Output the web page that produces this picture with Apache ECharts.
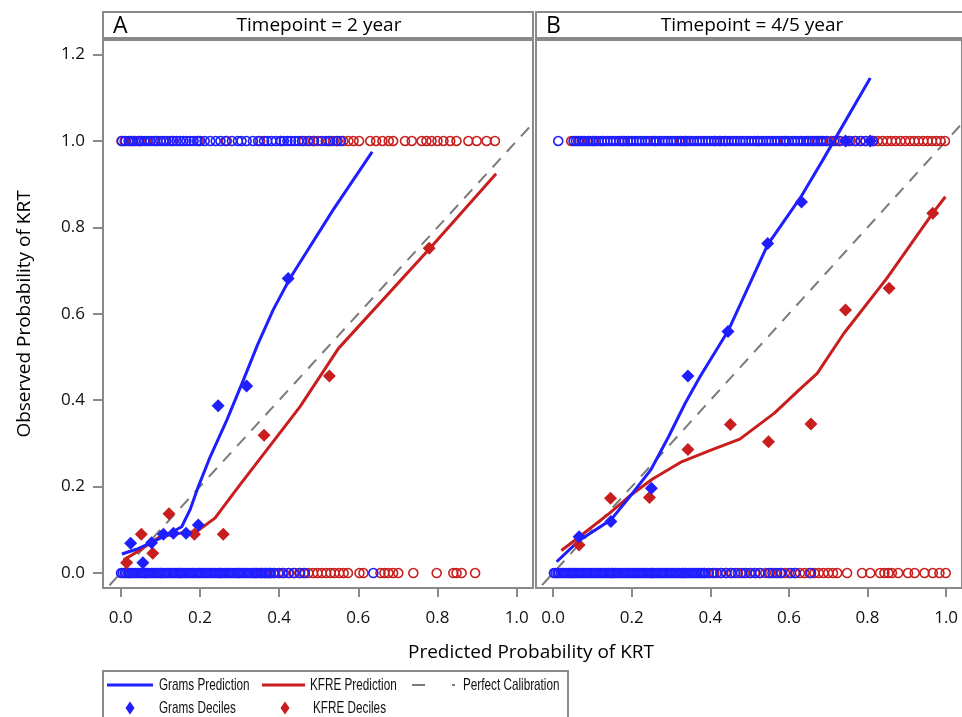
<!DOCTYPE html>
<html>
<head>
<meta charset="utf-8">
<script src="https://cdn.jsdelivr.net/npm/echarts@6.0.0/dist/echarts.min.js"></script>
<style>
html, body { margin: 0; padding: 0; background: #fff; }
#chart { width: 962px; height: 717px; }
</style>
</head>
<body>
<div id="chart"></div>
<script>
// tick values
var xTicks = [0, 0.2, 0.4, 0.6, 0.8, 1.0];
var yTicks = [0, 0.2, 0.4, 0.6, 0.8, 1.0, 1.2];

// ---- Panel A : Timepoint = 2 year ----
var gramsLineA = [[0.003,0.044],[0.040,0.055],[0.074,0.069],[0.117,0.088],[0.154,0.107],[0.175,0.146],[0.196,0.200],[0.226,0.269],[0.268,0.354],[0.310,0.447],[0.345,0.527],[0.385,0.609],[0.428,0.683],[0.536,0.840],[0.635,0.975]];
var kfreLineA = [[0.007,0.030],[0.049,0.053],[0.099,0.084],[0.150,0.092],[0.192,0.096],[0.238,0.127],[0.301,0.204],[0.369,0.285],[0.453,0.385],[0.550,0.520],[0.781,0.752],[0.948,0.924]];
var gramsDecA = [[0.025,0.069],[0.056,0.024],[0.078,0.070],[0.108,0.090],[0.133,0.092],[0.165,0.092],[0.196,0.111],[0.246,0.387],[0.318,0.433],[0.423,0.682]];
var kfreDecA = [[0.015,0.024],[0.052,0.090],[0.081,0.046],[0.122,0.137],[0.186,0.090],[0.259,0.090],[0.362,0.319],[0.527,0.456],[0.779,0.752]];

// observed events (y = 1) and non-events (y = 0), predicted probability
var gramsA1 = [0.003,0.012,0.020,0.028,0.036,0.045,0.052,0.060,0.068,0.075,0.083,0.092,0.100,0.108,0.115,0.124,0.133,0.141,0.150,0.158,0.166,0.175,0.184,0.193,0.201,0.212,0.226,0.240,0.252,0.265,0.281,0.296,0.305,0.318,0.334,0.347,0.362,0.370,0.381,0.392,0.403,0.412,0.421,0.430,0.440,0.449,0.458,0.473,0.488,0.507,0.518,0.529,0.545,0.556];
var kfreA1 = [0.002,0.010,0.024,0.031,0.043,0.050,0.087,0.131,0.197,0.268,0.352,0.405,0.463,0.478,0.487,0.498,0.524,0.536,0.548,0.562,0.575,0.588,0.602,0.630,0.645,0.661,0.677,0.688,0.718,0.735,0.760,0.772,0.785,0.800,0.815,0.832,0.848,0.878,0.899,0.924,0.945];
var gramsA0 = [0.001,0.005,0.010,0.014,0.019,0.023,0.028,0.032,0.037,0.041,0.046,0.050,0.055,0.059,0.064,0.068,0.073,0.077,0.082,0.086,0.091,0.095,0.100,0.104,0.109,0.113,0.118,0.122,0.127,0.131,0.136,0.140,0.145,0.149,0.154,0.158,0.163,0.167,0.172,0.176,0.181,0.185,0.190,0.194,0.199,0.203,0.208,0.212,0.217,0.221,0.226,0.230,0.235,0.239,0.244,0.248,0.253,0.257,0.262,0.266,0.271,0.275,0.280,0.284,0.289,0.293,0.298,0.302,0.307,0.311,0.316,0.320,0.325,0.329,0.334,0.338,0.343,0.347,0.352,0.356,0.361,0.365,0.370,0.374,0.378,0.386,0.398,0.409,0.424,0.437,0.453,0.465,0.638];
var kfreA0 = [0.020,0.060,0.100,0.150,0.200,0.250,0.300,0.340,0.355,0.366,0.377,0.389,0.401,0.412,0.425,0.439,0.451,0.462,0.474,0.486,0.497,0.508,0.519,0.530,0.540,0.552,0.563,0.574,0.603,0.613,0.656,0.666,0.676,0.688,0.701,0.739,0.798,0.840,0.848,0.861,0.895];

// ---- Panel B : Timepoint = 4/5 year ----
var gramsLineB = [[0.009,0.026],[0.067,0.076],[0.147,0.123],[0.198,0.180],[0.248,0.238],[0.294,0.316],[0.336,0.393],[0.374,0.455],[0.445,0.560],[0.546,0.760],[0.630,0.870],[0.685,0.954],[0.807,1.146]];
var kfreLineB = [[0.021,0.052],[0.067,0.084],[0.143,0.138],[0.193,0.177],[0.252,0.217],[0.328,0.258],[0.403,0.285],[0.475,0.310],[0.563,0.370],[0.626,0.424],[0.672,0.462],[0.740,0.555],[0.849,0.682],[0.966,0.833],[0.998,0.871]];
var gramsDecB = [[0.066,0.084],[0.147,0.119],[0.250,0.196],[0.343,0.456],[0.445,0.559],[0.546,0.763],[0.632,0.859],[0.744,1.000],[0.807,1.000]];
var kfreDecB = [[0.066,0.065],[0.146,0.173],[0.245,0.175],[0.343,0.286],[0.451,0.344],[0.548,0.304],[0.656,0.345],[0.744,0.609],[0.855,0.659],[0.966,0.833]];

var gramsB1 = [0.013,0.052,0.058,0.066,0.073,0.080,0.088,0.095,0.101,0.109,0.116,0.124,0.131,0.138,0.146,0.153,0.160,0.168,0.175,0.182,0.190,0.197,0.204,0.212,0.219,0.226,0.234,0.241,0.248,0.256,0.263,0.270,0.278,0.285,0.292,0.300,0.307,0.314,0.322,0.329,0.336,0.344,0.351,0.358,0.366,0.373,0.380,0.388,0.395,0.402,0.410,0.417,0.424,0.432,0.439,0.446,0.454,0.461,0.468,0.476,0.483,0.490,0.498,0.505,0.512,0.520,0.527,0.534,0.542,0.549,0.556,0.564,0.571,0.578,0.586,0.593,0.600,0.608,0.615,0.622,0.630,0.637,0.644,0.652,0.659,0.666,0.674,0.681,0.688,0.696,0.715,0.728,0.752,0.768,0.783,0.795,0.813];
var kfreB1 = [0.046,0.063,0.076,0.090,0.104,0.124,0.178,0.190,0.260,0.325,0.338,0.410,0.425,0.438,0.520,0.590,0.648,0.660,0.672,0.684,0.696,0.708,0.720,0.730,0.745,0.757,0.770,0.782,0.795,0.815,0.826,0.838,0.850,0.861,0.872,0.884,0.896,0.908,0.919,0.930,0.942,0.953,0.964,0.975,0.986,0.997];
var gramsB0 = [0.002,0.006,0.011,0.015,0.020,0.024,0.029,0.033,0.038,0.042,0.047,0.051,0.056,0.060,0.065,0.069,0.074,0.078,0.083,0.087,0.092,0.096,0.101,0.105,0.110,0.114,0.119,0.123,0.128,0.132,0.137,0.141,0.146,0.150,0.155,0.159,0.164,0.168,0.173,0.177,0.182,0.186,0.191,0.195,0.200,0.204,0.209,0.213,0.218,0.222,0.227,0.231,0.236,0.240,0.245,0.249,0.254,0.258,0.263,0.267,0.272,0.276,0.281,0.285,0.290,0.294,0.299,0.303,0.308,0.312,0.317,0.321,0.326,0.330,0.335,0.339,0.344,0.348,0.353,0.357,0.362,0.366,0.371,0.375,0.380,0.384,0.387,0.396,0.405,0.416,0.428,0.440,0.452,0.463,0.478,0.490,0.503,0.515,0.527,0.548,0.558,0.570,0.580,0.605,0.617,0.656];
var kfreB0 = [0.050,0.150,0.250,0.330,0.395,0.410,0.425,0.440,0.455,0.470,0.485,0.500,0.513,0.525,0.540,0.552,0.565,0.578,0.590,0.600,0.615,0.628,0.640,0.652,0.665,0.676,0.688,0.700,0.712,0.723,0.748,0.786,0.807,0.832,0.843,0.853,0.862,0.878,0.903,0.920,0.945,0.966,0.983,0.999];

var diag = [[-0.1,-0.1],[1.1,1.1]];

var BLUE = '#1e1eff';
var RED = '#c81e1e';
var GREY = '#7a7a7a';
var FRAME = '#8a8a8a';
var FONT = '"Open Sans", "DejaVu Sans", sans-serif';
var NARROW = '"Liberation Sans Narrow", "Liberation Sans", Arial, sans-serif';

function rug(xs, y) {
	return xs.map(function(x) { return [x, y]; });
}

function rugSeries(name, idx, xs1, xs0, color) {
	return {
		name: name, type: 'scatter', xAxisIndex: idx, yAxisIndex: idx,
		data: rug(xs1, 1).concat(rug(xs0, 0)),
		symbol: 'circle', symbolSize: 9, z: 2,
		itemStyle: { color: 'rgba(0,0,0,0)', borderColor: color, borderWidth: 1.6, opacity: 1 },
		emphasis: { disabled: true }
	};
}

function panelSeries(idx, d) {
	return [
		{ name: 'Perfect Calibration', type: 'line', xAxisIndex: idx, yAxisIndex: idx, data: diag,
			symbol: 'none', z: 1, lineStyle: { color: GREY, width: 2, type: [12, 9] }, itemStyle: { color: GREY } },
		rugSeries('KFRE Observed', idx, d.kfre1, d.kfre0, RED),
		rugSeries('Grams Observed', idx, d.grams1, d.grams0, BLUE),
		{ name: 'KFRE Prediction', type: 'line', xAxisIndex: idx, yAxisIndex: idx, data: d.kfreLine,
			symbol: 'none', z: 3, lineStyle: { color: RED, width: 3 }, itemStyle: { color: RED } },
		{ name: 'Grams Prediction', type: 'line', xAxisIndex: idx, yAxisIndex: idx, data: d.gramsLine,
			symbol: 'none', z: 3, lineStyle: { color: BLUE, width: 3 }, itemStyle: { color: BLUE } },
		{ name: 'KFRE Deciles', type: 'scatter', xAxisIndex: idx, yAxisIndex: idx, data: d.kfreDec,
			symbol: 'diamond', symbolSize: 13, z: 4, itemStyle: { color: RED, opacity: 1 } },
		{ name: 'Grams Deciles', type: 'scatter', xAxisIndex: idx, yAxisIndex: idx, data: d.gramsDec,
			symbol: 'diamond', symbolSize: 13, z: 4, itemStyle: { color: BLUE, opacity: 1 } }
	];
}

function xAxisFor(idx, min, max) {
	return {
		type: 'value', gridIndex: idx, min: min, max: max,
		splitLine: { show: false },
		axisLine: { show: false, onZero: false },
		axisTick: { show: true, length: 9, lineStyle: { color: FRAME, width: 2 }, customValues: xTicks },
		axisLabel: { margin: 22, fontSize: 17, fontFamily: FONT, color: '#111',
			customValues: xTicks, formatter: function(v) { return v.toFixed(1); } }
	};
}

function yAxisFor(idx, labels) {
	return {
		type: 'value', gridIndex: idx, min: -0.0347, max: 1.2338,
		splitLine: { show: false },
		axisLine: { show: false, onZero: false },
		axisTick: { show: labels, length: 10, lineStyle: { color: FRAME, width: 2 }, customValues: yTicks },
		axisLabel: { show: labels, margin: 18, fontSize: 17, fontFamily: FONT, color: '#111',
			customValues: yTicks, formatter: function(v) { return v.toFixed(1); } }
	};
}

function headerStrip(x, letter, title, titleX) {
	return [
		{ type: 'rect', shape: { x: x, y: 12, width: 430, height: 26 },
			style: { fill: '#fff', stroke: FRAME, lineWidth: 2 } },
		{ type: 'text', x: x + 10, y: 26,
			style: { text: letter, font: '23px ' + FONT, fill: '#000', verticalAlign: 'middle' } },
		{ type: 'text', x: titleX, y: 26,
			style: { text: title, font: '19px ' + FONT, fill: '#000', align: 'center', verticalAlign: 'middle' } }
	];
}

// legend drawn as graphic so the condensed labels sit where they do in the original
function legendText(label, x, y) {
	return { type: 'text', x: x, y: y, scaleX: 0.69,
		style: { text: label, font: '17px ' + NARROW, fill: '#111', verticalAlign: 'middle' } };
}
function legendLine(x1, x2, y, color, width) {
	return { type: 'line', shape: { x1: x1, y1: y, x2: x2, y2: y }, style: { stroke: color, lineWidth: width } };
}
function legendDiamond(cx, cy, color) {
	return { type: 'polygon', shape: { points: [[cx, cy - 6.5], [cx + 4.5, cy], [cx, cy + 6.5], [cx - 4.5, cy]] },
		style: { fill: color } };
}

var legendGraphics = [
	{ type: 'rect', shape: { x: 103, y: 671, width: 465, height: 60 },
		style: { fill: 'none', stroke: FRAME, lineWidth: 2 } },
	legendLine(107, 153, 685, BLUE, 3), legendText('Grams Prediction', 159, 685),
	legendLine(262, 305, 685, RED, 3), legendText('KFRE Prediction', 310, 685),
	legendLine(412, 425, 685, GREY, 2), legendLine(452, 455, 685, GREY, 2), legendText('Perfect Calibration', 463, 685),
	legendDiamond(130, 708, BLUE), legendText('Grams Deciles', 159, 708),
	legendDiamond(285, 708, RED), legendText('KFRE Deciles', 313, 708)
];

var chart = echarts.init(document.getElementById('chart'), null, { renderer: 'canvas' });

chart.setOption({
	animation: false,
	backgroundColor: '#fff',
	grid: [
		{ left: 103, top: 40, width: 430, height: 548, show: true, borderColor: FRAME, borderWidth: 2 },
		{ left: 536, top: 40, width: 430, height: 548, show: true, borderColor: FRAME, borderWidth: 2 }
	],
	xAxis: [xAxisFor(0, -0.0447, 1.0412), xAxisFor(1, -0.0436, 1.0404)],
	yAxis: [yAxisFor(0, true), yAxisFor(1, false)],
	graphic: [].concat(
		headerStrip(103, 'A', 'Timepoint = 2 year', 319),
		headerStrip(536, 'B', 'Timepoint = 4/5 year', 752),
		[
			{ type: 'text', x: 531, y: 653,
				style: { text: 'Predicted Probability of KRT', font: '19px ' + FONT, fill: '#000', align: 'center', verticalAlign: 'middle' } },
			{ type: 'text', x: 25, y: 314, rotation: Math.PI / 2,
				style: { text: 'Observed Probability of KRT', font: '19px ' + FONT, fill: '#000', align: 'center', verticalAlign: 'middle' } }
		],
		legendGraphics
	),
	series: panelSeries(0, {
		gramsLine: gramsLineA, kfreLine: kfreLineA, gramsDec: gramsDecA, kfreDec: kfreDecA,
		grams1: gramsA1, grams0: gramsA0, kfre1: kfreA1, kfre0: kfreA0
	}).concat(panelSeries(1, {
		gramsLine: gramsLineB, kfreLine: kfreLineB, gramsDec: gramsDecB, kfreDec: kfreDecB,
		grams1: gramsB1, grams0: gramsB0, kfre1: kfreB1, kfre0: kfreB0
	}))
});
</script>
</body>
</html>
